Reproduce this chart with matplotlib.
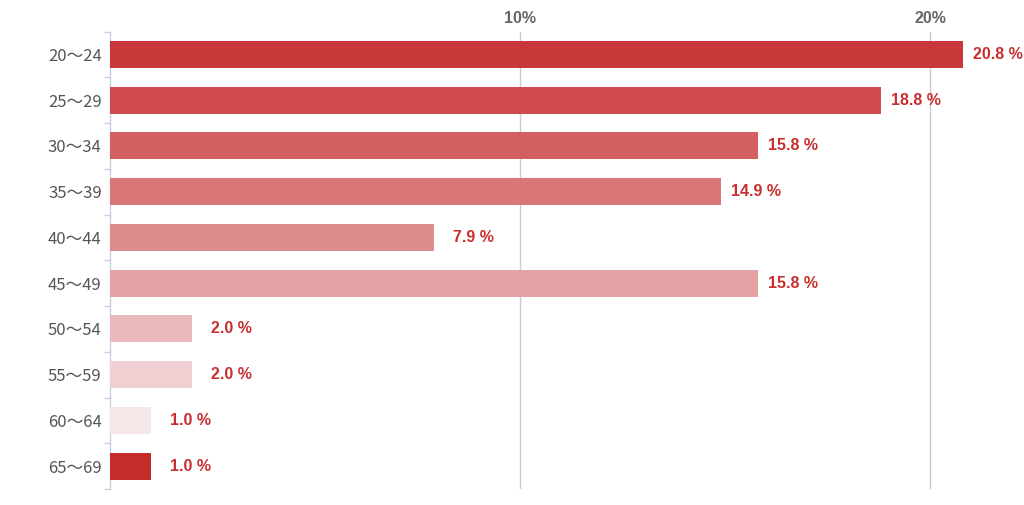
import numpy as np
import matplotlib
matplotlib.use("Agg")
import matplotlib.pyplot as plt

# age groups and share of respondents (%)
categories = ["20〜24", "25〜29", "30〜34", "35〜39", "40〜44",
              "45〜49", "50〜54", "55〜59", "60〜64", "65〜69"]
values = [20.8, 18.8, 15.8, 14.9, 7.9, 15.8, 2.0, 2.0, 1.0, 1.0]
colors = ["#c8373a", "#cf4a4d", "#d45f61", "#da7678", "#df8c8d",
          "#e5a2a4", "#eab9bb", "#f0d0d2", "#f6e6e7", "#c52b28"]
xticks = [10, 20]

fig = plt.figure(figsize=(10.24, 5.05), dpi=100)
ax = fig.add_axes([110 / 1024, 1 - 489 / 505, 902 / 1024, (489 - 31.6) / 505])

y = np.arange(len(categories))
ax.barh(y, values, height=0.59, color=colors, zorder=3)

ax.set_xlim(0, 22)
ax.set_ylim(len(categories) - 0.5, -0.5)

# top percentage axis with vertical grid lines
ax.xaxis.tick_top()
ax.set_xticks(xticks)
ax.set_xticklabels([f"{t}%" for t in xticks], fontsize=11.5, fontweight="bold",
                   color="#666666", family="Liberation Sans")
ax.tick_params(axis="x", length=0, pad=4)
for t in xticks:
    ax.axvline(t, color="#c9cbd1", lw=1, zorder=1)

# left category axis
ax.set_yticks(y)
ax.set_yticklabels(categories, fontsize=12, color="#555555",
                   family=["Noto Sans CJK JP", "DejaVu Sans"])
ax.tick_params(axis="y", which="major", length=0, pad=6)
ax.set_yticks(np.arange(-0.5, len(categories)), minor=True)
ax.tick_params(axis="y", which="minor", length=4, color="#c5d0e0", width=1)

for s in ["top", "right", "bottom"]:
    ax.spines[s].set_visible(False)
ax.spines["left"].set_color("#c5d0e0")
ax.spines["left"].set_linewidth(1)

# value labels
for yi, v in zip(y, values):
    off = 10 if v > 10 else 19
    ax.annotate(f"{v:.1f} %", (v, yi), xytext=(off * 0.72, 0),
                textcoords="offset points", va="center", ha="left",
                fontsize=11.5, fontweight="bold", color="#c8302f",
                family="Liberation Sans")

fig.savefig("out.png", dpi=100)
